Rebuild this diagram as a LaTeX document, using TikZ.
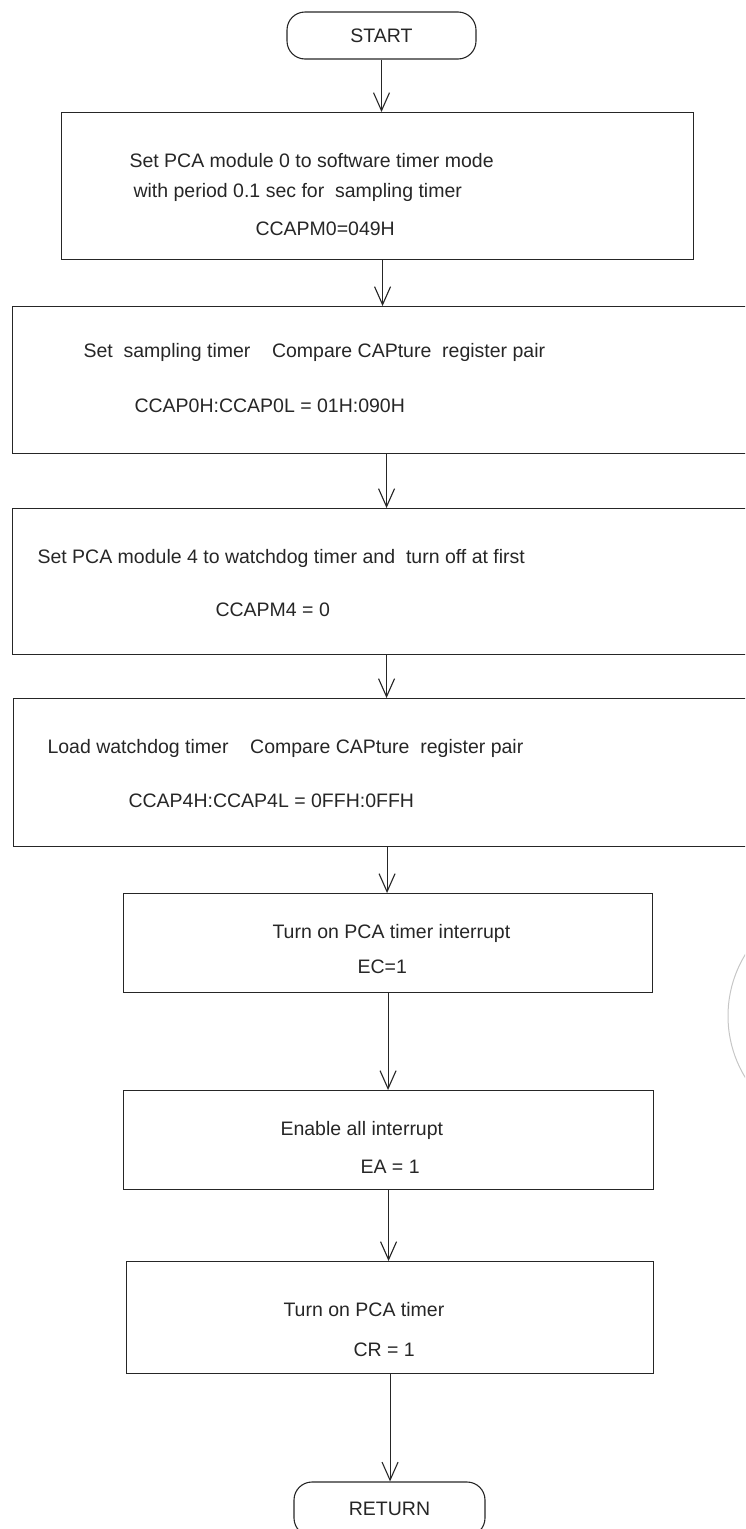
\documentclass[tikz,border=0pt]{standalone}
\usepackage{fontspec}
\setmainfont{Liberation Sans}
\usetikzlibrary{arrows.meta}

\begin{document}
\begin{tikzpicture}[x=1pt, y=-1pt, line width=1.1pt, color=black!85,
    procbox/.style={draw, rectangle, anchor=north west, inner sep=0pt},
    termbox/.style={draw, rectangle, rounded corners=18pt, inner sep=0pt, font=\fontsize{19.5}{23}\selectfont},
    txt/.style={anchor=base west, inner sep=0pt, font=\fontsize{19.5}{23}\selectfont},
    flow/.style={-{Straight Barb[length=18pt, width=16pt]}}]
        \useasboundingbox (0,0) rectangle (745,1529);
        \clip (0,0) rectangle (745,1529);

        \node[termbox, minimum width=189pt, minimum height=47pt] (start) at (381.5,35.5) {START};
        \node[procbox, minimum width=632pt, minimum height=147pt] (setmod) at (61,112) {};
        \node[procbox, minimum width=748pt, minimum height=147pt] (samp) at (12,306) {};
        \node[procbox, minimum width=748pt, minimum height=146pt] (wdmod) at (12,508) {};
        \node[procbox, minimum width=747pt, minimum height=148pt] (wdload) at (13,698) {};
        \node[procbox, minimum width=529pt, minimum height=99pt] (pcaint) at (123,893) {};
        \node[procbox, minimum width=530pt, minimum height=99pt] (allint) at (123,1090) {};
        \node[procbox, minimum width=527pt, minimum height=112pt] (pcarun) at (126,1261) {};
        \node[termbox, minimum width=191pt, minimum height=54pt] (return) at (389.5,1509) {RETURN};

        \node[txt] (setmodA) at (129,167) {Set PCA module 0 to software timer mode};
        \node[txt] (setmodB) at (133,197) {with period 0.1 sec for\ \ sampling timer};
        \node[txt] (setmodC) at (255,235) {CCAPM0=049H};
        \node[txt] (sampA) at (83,357) {Set\ \ sampling timer\ \ \ \ Compare CAPture\ \ register pair};
        \node[txt] (sampB) at (134,412) {CCAP0H:CCAP0L = 01H:090H};
        \node[txt] (wdmodA) at (37,563) {Set PCA module 4 to watchdog timer and\ \ turn off at first};
        \node[txt] (wdmodB) at (215,616) {CCAPM4 = 0};
        \node[txt] (wdloadA) at (47,753) {Load watchdog timer\ \ \ \ Compare CAPture\ \ register pair};
        \node[txt] (wdloadB) at (128,807) {CCAP4H:CCAP4L = 0FFH:0FFH};
        \node[txt] (pcaintA) at (272,938) {Turn on PCA timer interrupt};
        \node[txt] (pcaintB) at (357,973) {EC=1};
        \node[txt] (allintA) at (280,1135) {Enable all interrupt};
        \node[txt] (allintB) at (360,1173) {EA = 1};
        \node[txt] (pcarunA) at (283,1316) {Turn on PCA timer};
        \node[txt] (pcarunB) at (353,1356) {CR = 1};

        \draw[flow] (start) -- (start |- setmod.north);
        \draw[flow] ([xshift=5pt]setmod.south) -- ([xshift=5pt]setmod.south |- samp.north);
        \draw[flow] (samp.south) -- (samp.south |- wdmod.north);
        \draw[flow] (wdmod.south) -- (wdmod.south |- wdload.north);
        \draw[flow] (wdload.south) -- (wdload.south |- pcaint.north);
        \draw[flow] (pcaint.south) -- (pcaint.south |- allint.north);
        \draw[flow] (allint.south) -- (allint.south |- pcarun.north);
        \draw[flow] (pcarun.south) -- (pcarun.south |- return.north);

        \draw[gray!45, line width=1pt] (846,1016) circle[radius=118];
    \end{tikzpicture}
\end{document}
